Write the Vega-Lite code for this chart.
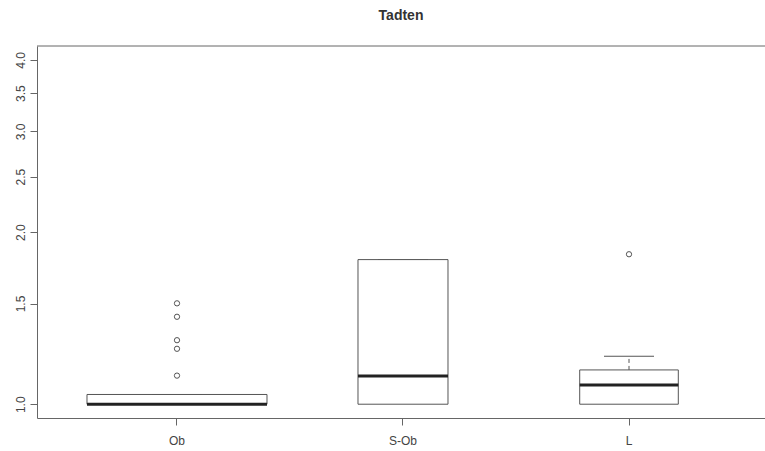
{
  "$schema": "https://vega.github.io/schema/vega-lite/v6.json",
  "autosize": "none",
  "padding": {"left": 37, "top": 46, "right": 0, "bottom": 33},
  "width": 728,
  "height": 372,
  "background": "white",
  "config": {"view": {"stroke": null}, "font": "Liberation Sans"},
  "title": {"text": "Tadten", "fontSize": 14, "fontWeight": "bold", "color": "#333333", "offset": 23, "anchor": "middle", "font": "Liberation Sans"},
  "datasets": {
    "stats": [
      {"group": "Ob", "n": 40, "lower": 1.0, "q1": 1.0, "median": 1.0, "q3": 1.04, "upper": 1.04},
      {"group": "S-Ob", "n": 10, "lower": 1.0, "q1": 1.0, "median": 1.12, "q3": 1.79, "upper": 1.79},
      {"group": "L", "n": 12, "lower": 1.0, "q1": 1.0, "median": 1.08, "q3": 1.148, "upper": 1.213}
    ],
    "outliers": [
      {"group": "Ob", "value": 1.501},
      {"group": "Ob", "value": 1.422},
      {"group": "Ob", "value": 1.294},
      {"group": "Ob", "value": 1.25},
      {"group": "Ob", "value": 1.122},
      {"group": "L", "value": 1.829}
    ]
  },
  "layer": [
    {
      "data": {"name": "stats"},
      "mark": {"type": "rule", "strokeDash": [4, 3], "color": "#555555", "strokeWidth": 1},
      "encoding": {
        "x": {
          "field": "group", "type": "nominal", "sort": ["Ob", "S-Ob", "L"],
          "scale": {"domain": ["Ob", "S-Ob", "L"], "paddingInner": 0, "paddingOuter": 0.1106, "align": 0.54},
          "axis": {"title": null, "labelAngle": 0, "tickSize": 7, "labelPadding": 10, "labelFontSize": 12, "labelColor": "#444444", "domainColor": "#666666", "tickColor": "#666666", "labelFont": "Liberation Sans"}
        },
        "y": {"field": "q3", "type": "quantitative",
          "scale": {"type": "log", "domain": [0.946, 4.23], "nice": false, "zero": false},
          "axis": {"title": null, "grid": false, "values": [1, 1.5, 2, 2.5, 3, 3.5, 4], "format": ".1f", "labelAngle": 270, "tickSize": 7, "labelPadding": 3, "labelFontSize": 12, "labelColor": "#444444", "domainColor": "#666666", "tickColor": "#666666", "labelFont": "Liberation Sans"}},
        "y2": {"field": "upper"}
      }
    },
    {
      "data": {"name": "stats"},
      "mark": {"type": "tick", "size": 50, "thickness": 1, "color": "#555555", "opacity": 1},
      "encoding": {
        "x": {"field": "group", "type": "nominal", "sort": ["Ob", "S-Ob", "L"]},
        "y": {"field": "upper", "type": "quantitative"}
      }
    },
    {
      "data": {"name": "stats"},
      "mark": {"type": "bar", "fill": "white", "stroke": "#555555", "strokeWidth": 1},
      "encoding": {
        "x": {"field": "group", "type": "nominal", "sort": ["Ob", "S-Ob", "L"]},
        "y": {"field": "q1", "type": "quantitative"},
        "y2": {"field": "q3"},
        "size": {"field": "n", "type": "quantitative", "scale": {"type": "sqrt", "domain": [0, 40], "range": [0, 180]}, "legend": null}
      }
    },
    {
      "data": {"name": "stats"},
      "mark": {"type": "tick", "thickness": 3, "color": "#222222", "opacity": 1},
      "encoding": {
        "x": {"field": "group", "type": "nominal", "sort": ["Ob", "S-Ob", "L"]},
        "y": {"field": "median", "type": "quantitative"},
        "size": {"field": "n", "type": "quantitative", "legend": null}
      }
    },
    {
      "data": {"name": "outliers"},
      "mark": {"type": "point", "shape": "circle", "filled": false, "size": 28, "stroke": "#555555", "strokeWidth": 1, "opacity": 1},
      "encoding": {
        "x": {"field": "group", "type": "nominal", "sort": ["Ob", "S-Ob", "L"]},
        "y": {"field": "value", "type": "quantitative"}
      }
    },
    {
      "data": {"values": [{"top": 4.23}]},
      "mark": {"type": "rule", "color": "#666666", "strokeWidth": 1},
      "encoding": {"y": {"field": "top", "type": "quantitative"}}
    }
  ]
}
